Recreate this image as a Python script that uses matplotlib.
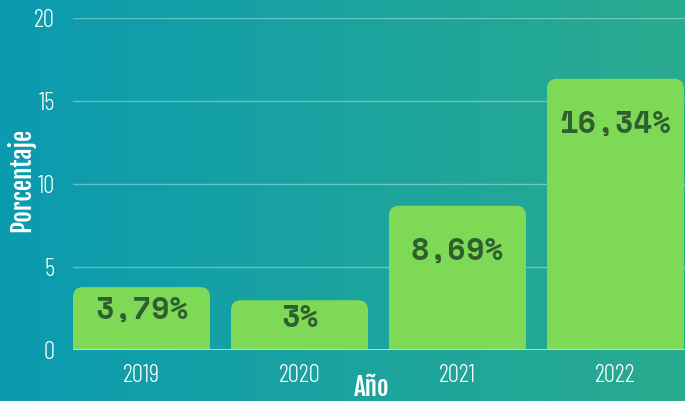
import numpy as np
import matplotlib
matplotlib.use('Agg')
import matplotlib.pyplot as plt
from matplotlib.patches import FancyBboxPatch

# Datos
anios = ['2019', '2020', '2021', '2022']
porcentajes = [3.79, 3.0, 8.69, 16.34]
etiquetas = ['3,79%', '3%', '8,69%', '16,34%']
yticks = [0, 5, 10, 15, 20]

fuente_ejes = 'Barlow Condensed'
fuente_titulo = 'Fjalla One'
fuente_valor = 'Space Mono'

fig = plt.figure(figsize=(6.85, 4.01), dpi=100)

# fondo degradado
bg = fig.add_axes([0, 0, 1, 1], zorder=-10)
c1 = np.array([11, 155, 176]) / 255
c2 = np.array([42, 171, 143]) / 255
t = np.linspace(0, 1, 256)
grad = (c1[None, :] * (1 - t[:, None]) + c2[None, :] * t[:, None])[None, :, :]
bg.imshow(grad, aspect='auto', extent=[0, 1, 0, 1])
bg.axis('off')

ax = fig.add_axes([73/685, 51/401, 612/685, 332/401])
ax.patch.set_alpha(0)
x = np.arange(len(anios))
ancho = 0.867
barras = ax.bar(x, porcentajes, width=ancho, color='none', zorder=2)

ax.set_xlim(-0.4335, 3.44)
ax.set_ylim(0, 20)

# barras con esquinas superiores redondeadas
px_x = 158.0
px_y = 332 / 20
r = 10
for b in barras:
    p = FancyBboxPatch((b.get_x(), -2), b.get_width(), b.get_height() + 2,
                       boxstyle='round,pad=0,rounding_size=%f' % (r / px_x),
                       mutation_aspect=px_x / px_y,
                       fc='#7ed957', ec='none', zorder=3, clip_on=True)
    ax.add_patch(p)

# etiquetas de valor
for xi, v, lab in zip(x, porcentajes, etiquetas):
    h_px = v * px_y
    off = min(0.38 * h_px, 46)
    ax.annotate(lab, (xi, v), xytext=(0, -off * 0.72), textcoords='offset points',
                ha='center', va='center', fontsize=22, fontweight='bold',
                family=fuente_valor, color='#2f5f2f', zorder=4)

for y in yticks[1:]:
    ax.axhline(y, color='white', alpha=0.35, lw=1, zorder=1)
ax.axhline(0, color='#b5e3ec', lw=2, zorder=4)

for s in ax.spines.values():
    s.set_visible(False)
ax.set_yticks(yticks)
ax.set_xticks(x)
ax.set_xticklabels(anios)
ax.tick_params(length=0, colors='white', labelsize=18, pad=10)
ax.tick_params(axis='y', pad=13)
for lab in ax.get_xticklabels() + ax.get_yticklabels():
    lab.set_fontfamily(fuente_ejes)
    lab.set_fontweight(300)

fig.text(21/685, 1 - 180/401, 'Porcentaje', rotation=90, ha='center', va='center',
         color='white', fontsize=18, family=fuente_titulo)
fig.text(372/685, 1 - 387/401, 'Año', ha='center', va='center',
         color='white', fontsize=18, family=fuente_titulo)

fig.savefig('out.png', dpi=100)
